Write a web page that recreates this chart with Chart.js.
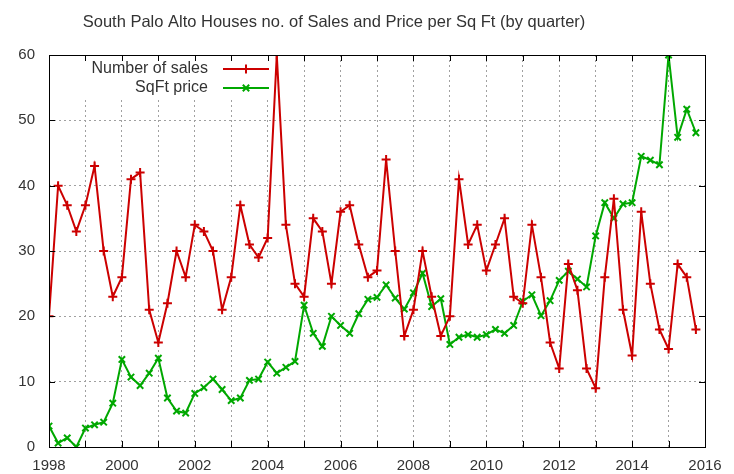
<!DOCTYPE html>
<html>
<head>
<meta charset="utf-8">
<script src="https://cdn.jsdelivr.net/npm/chart.js@4/dist/chart.umd.min.js"></script>
<style>
  html, body { margin: 0; padding: 0; background: #fff; }
  #wrap { width: 734px; height: 474px; }
</style>
</head>
<body>
<div id="wrap"><canvas id="chart" width="734" height="474"></canvas></div>
<script>
const titleText = "South Palo Alto Houses no. of Sales and Price per Sq Ft (by quarter)"
const seriesNames = ["Number of sales", "SqFt price"]
const startYear = 1998

// quarterly values, 1998 Q1 .. 2015 Q4
const sales = [
  20, 40, 37, 33, 37, 43, 30, 23, 26, 41, 42, 21,
  16, 22, 30, 26, 34, 33, 30, 21, 26, 37, 31, 29,
  32, 60, 34, 25, 23, 35, 33, 25, 36, 37, 31, 26,
  27, 44, 30, 17, 21, 30, 23, 17, 20, 41, 31, 34,
  27, 31, 35, 23, 22, 34, 26, 16, 12, 28, 24, 12,
  9, 26, 38, 21, 14, 36, 25, 18, 15, 28, 26, 18
]
const sqftPrice = [
  3.2, 0.6, 1.4, 0, 2.9, 3.4, 3.8, 6.7, 13.4, 10.7, 9.4, 11.3,
  13.6, 7.5, 5.5, 5.2, 8.2, 9.1, 10.4, 8.8, 7.1, 7.5, 10.2, 10.4,
  13.0, 11.3, 12.2, 13.1, 21.7, 17.4, 15.4, 20.0, 18.6, 17.4, 20.4, 22.6,
  22.9, 24.8, 22.8, 21.1, 23.6, 26.6, 21.5, 22.7, 15.7, 16.8, 17.2, 16.8,
  17.2, 18.0, 17.4, 18.6, 22.3, 23.3, 20.1, 22.4, 25.5, 26.9, 25.7, 24.5,
  32.3, 37.4, 35.0, 37.2, 37.4, 44.5, 43.9, 43.2, 60.0, 47.4, 51.7, 48.1
]
const yTicks = [0, 10, 20, 30, 40, 50, 60]

const red = "#cc0000"
const green = "#00a800"
const textColor = "#333333"
const family = "'Liberation Sans', Arial, sans-serif"

const quarterX = sales.map((_, i) => startYear + i / 4)
const toPoints = values => values.map((v, i) => ({ x: quarterX[i], y: v }))

// gnuplot style: border with inward ticks, title, legend box at top left
const gnuplotLook = {
  id: "gnuplotLook",
  beforeDatasetsDraw(chart) {
    const ctx = chart.ctx
    ctx.save()
    ctx.fillStyle = "#fff"
    ctx.fillRect(80, 56, 196, 41)
    ctx.restore()
  },
  afterDraw(chart) {
    const ctx = chart.ctx
    const a = chart.chartArea
    const xs = chart.scales.x
    const ys = chart.scales.y
    ctx.save()
    ctx.strokeStyle = "#000"
    ctx.lineWidth = 1
    ctx.strokeRect(Math.round(a.left) + 0.5, Math.round(a.top) + 0.5,
      Math.round(a.right - a.left), Math.round(a.bottom - a.top))
    ctx.beginPath()
    for (let yr = startYear; yr <= 2016; yr++) {
      const px = Math.round(xs.getPixelForValue(yr)) + 0.5
      ctx.moveTo(px, a.bottom); ctx.lineTo(px, a.bottom - 6)
      ctx.moveTo(px, a.top); ctx.lineTo(px, a.top + 6)
    }
    yTicks.forEach(v => {
      const py = Math.round(ys.getPixelForValue(v)) + 0.5
      ctx.moveTo(a.left, py); ctx.lineTo(a.left + 6, py)
      ctx.moveTo(a.right, py); ctx.lineTo(a.right - 6, py)
    })
    ctx.stroke()

    ctx.fillStyle = textColor
    ctx.font = "16.5px " + family
    ctx.textAlign = "center"
    ctx.textBaseline = "middle"
    ctx.fillText(titleText, 334, 22)

    const rows = [
      { name: seriesNames[0], color: red, style: "cross", y: 69 },
      { name: seriesNames[1], color: green, style: "crossRot", y: 88 }
    ]
    ctx.font = "16px " + family
    rows.forEach(r => {
      ctx.fillStyle = textColor
      ctx.textAlign = "right"
      ctx.fillText(r.name, 208, r.y)
      ctx.strokeStyle = r.color
      ctx.lineWidth = 2
      ctx.beginPath()
      ctx.moveTo(223, r.y); ctx.lineTo(269, r.y)
      ctx.stroke()
      Chart.helpers.drawPoint(ctx, { pointStyle: r.style, radius: 4.5, borderWidth: 2, rotation: 0 }, 246, r.y)
    })
    ctx.restore()
  }
}

new Chart(document.getElementById("chart").getContext("2d"), {
  type: "line",
  data: {
    datasets: [
      {
        label: seriesNames[0],
        data: toPoints(sales),
        borderColor: red,
        backgroundColor: red,
        borderWidth: 2,
        pointStyle: "cross",
        pointRadius: 4.5,
        pointBorderWidth: 2,
        tension: 0
      },
      {
        label: seriesNames[1],
        data: toPoints(sqftPrice),
        borderColor: green,
        backgroundColor: green,
        borderWidth: 2,
        pointStyle: "crossRot",
        pointRadius: 4.5,
        pointBorderWidth: 2,
        tension: 0
      }
    ]
  },
  options: {
    responsive: false,
    animation: false,
    layout: { padding: { top: 55, right: 29, left: 0, bottom: 0 } },
    plugins: {
      legend: { display: false },
      title: { display: false },
      tooltip: { enabled: false }
    },
    scales: {
      x: {
        type: "linear",
        min: 1998,
        max: 2016,
        afterFit: s => { s.height = 27 },
        border: { display: false, dash: [2, 3] },
        grid: { color: "#a0a0a0", lineWidth: 1, drawTicks: false },
        ticks: {
          stepSize: 1,
          autoSkip: false,
          maxRotation: 0,
          padding: 10,
          color: textColor,
          font: { family: family, size: 15 },
          callback: v => (v % 2 === 0 ? String(v) : "")
        }
      },
      y: {
        min: 0,
        max: 60,
        afterFit: s => { s.width = 49 },
        border: { display: false, dash: [2, 3] },
        grid: { color: "#a0a0a0", lineWidth: 1, drawTicks: false },
        ticks: {
          stepSize: 10,
          padding: 14,
          color: textColor,
          font: { family: family, size: 15 }
        }
      }
    }
  },
  plugins: [gnuplotLook]
})
</script>
</body>
</html>
